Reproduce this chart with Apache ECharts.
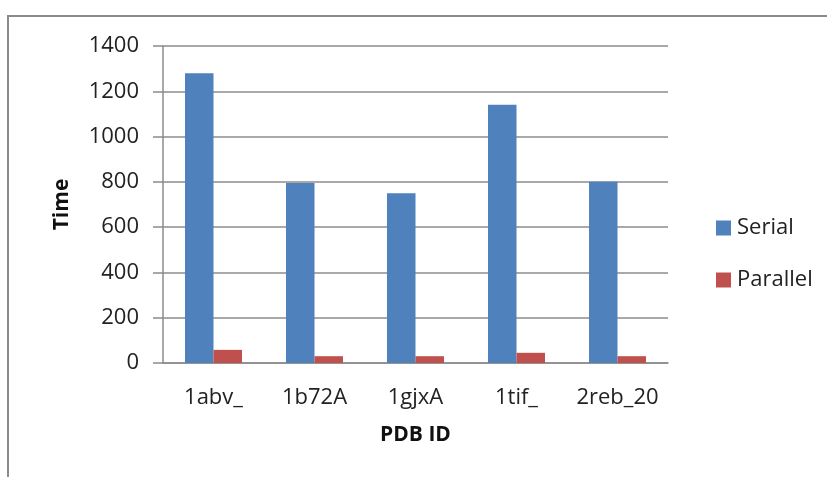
<!DOCTYPE html>
<html>
<head>
<meta charset="utf-8">
<script src="https://cdn.jsdelivr.net/npm/echarts@6/dist/echarts.min.js"></script>
<style>
html,body{margin:0;padding:0;background:#fff;}
#chart{width:827px;height:477px;}
</style>
</head>
<body>
<div id="chart"></div>
<script>
const categories = ['1abv_', '1b72A', '1gjxA', '1tif_', '2reb_20'];
const serialValues = [1280, 795, 750, 1140, 800];
const parallelValues = [58, 30, 30, 45, 30];
const yTicks = [0, 200, 400, 600, 800, 1000, 1200, 1400];

const FONT = '"Open Sans", "Liberation Sans", sans-serif';
const chart = echarts.init(document.getElementById('chart'));
chart.setOption({
  animation: false,
  backgroundColor: '#ffffff',
  textStyle: { fontFamily: FONT },
  graphic: [{
    type: 'rect',
    shape: { x: 8, y: 16, width: 900, height: 600 },
    style: { fill: 'none', stroke: '#8a8a8a', lineWidth: 2 },
    silent: true
  }],
  grid: { left: 163, right: 159, top: 46, bottom: 114, containLabel: false },
  legend: {
    orient: 'vertical',
    left: 711,
    top: 212,
    itemWidth: 15,
    itemHeight: 15,
    itemGap: 30,
    icon: 'rect',
    textStyle: { fontFamily: FONT, fontSize: 22, color: '#222', padding: [0, 0, 0, 1] },
    data: ['Serial', 'Parallel']
  },
  xAxis: {
    type: 'category',
    data: categories,
    name: 'PDB ID',
    nameLocation: 'middle',
    nameGap: 62,
    nameTextStyle: { fontFamily: FONT, fontSize: 21, fontWeight: 'bold', color: '#111' },
    axisLine: { lineStyle: { color: '#8c8c8c', width: 1.5 } },
    axisTick: { show: false },
    axisLabel: { fontFamily: FONT, fontSize: 22, color: '#222', margin: 24, interval: 0, hideOverlap: false }
  },
  yAxis: {
    type: 'value',
    min: yTicks[0],
    max: yTicks[yTicks.length - 1],
    interval: 200,
    name: 'Time',
    nameLocation: 'middle',
    nameGap: 90,
    nameTextStyle: { fontFamily: FONT, fontSize: 21, fontWeight: 'bold', color: '#111' },
    axisLine: { show: true, lineStyle: { color: '#8c8c8c', width: 1.5 } },
    axisTick: { show: true, length: 10, lineStyle: { color: '#8c8c8c', width: 1.5 } },
    splitLine: { show: true, lineStyle: { color: '#8c8c8c', width: 1.5 } },
    axisLabel: { fontFamily: FONT, fontSize: 22, color: '#222', margin: 24, formatter: v => String(v) }
  },
  series: [
    {
      name: 'Serial',
      type: 'bar',
      data: serialValues,
      barWidth: 28.5,
      barGap: '0%',
      itemStyle: { color: '#4F81BD' }
    },
    {
      name: 'Parallel',
      type: 'bar',
      data: parallelValues,
      barWidth: 28.5,
      barGap: '0%',
      itemStyle: { color: '#C0504D' }
    }
  ]
});
</script>
</body>
</html>
